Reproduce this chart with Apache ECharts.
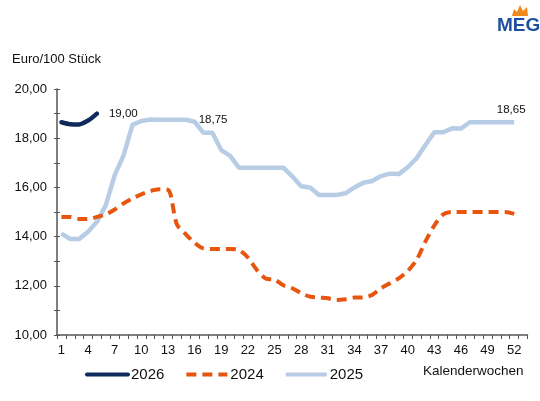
<!DOCTYPE html>
<html>
<head>
<meta charset="utf-8">
<script src="https://cdn.jsdelivr.net/npm/echarts@6/dist/echarts.min.js"></script>
<style>html,body{margin:0;padding:0;background:#fff}#c{width:540px;height:401px}</style>
</head>
<body>
<div id="c"></div>
<script>
var weeks = [];
for (var i = 1; i <= 53; i++) weeks.push(String(i));

var s2026 = [18.65, 18.57, 18.56, 18.72, 19.0];
var s2024 = [14.8, 14.8, 14.72, 14.72, 14.8, 14.9, 15.1, 15.35, 15.55, 15.72, 15.85, 15.92, 15.9, 14.5, 14.1, 13.75,
  13.52, 13.5, 13.5, 13.5, 13.45, 13.15, 12.65, 12.3, 12.25, 12.02, 11.9, 11.7, 11.56, 11.52, 11.49, 11.42,
  11.45, 11.52, 11.53, 11.63, 11.9, 12.1, 12.3, 12.6, 13.05, 13.8, 14.45, 14.9, 15.0, 15.0, 15.0, 15.0,
  15.0, 15.0, 15.0, 14.92];
var s2025 = [14.12, 13.9, 13.9, 14.2, 14.6, 15.28, 16.5, 17.3, 18.54, 18.7, 18.76, 18.75, 18.75, 18.75, 18.75, 18.67,
  18.22, 18.22, 17.52, 17.28, 16.8, 16.8, 16.8, 16.8, 16.8, 16.8, 16.45, 16.05, 16.0, 15.69, 15.69, 15.69,
  15.76, 16.0, 16.19, 16.26, 16.46, 16.56, 16.54, 16.82, 17.18, 17.72, 18.24, 18.24, 18.4, 18.39, 18.65, 18.65,
  18.65, 18.65, 18.65, 18.65];
var yTicks = { min: 10, max: 20, interval: 2 };
var seriesNames = ['2026', '2024', '2025'];

function fmt(v) { return Number(v).toFixed(2).replace('.', ','); }

// labels: {index: [position, distance, offset]}
function withLabels(arr, spec) {
  return arr.map(function (v, i) {
    var s = spec[i];
    if (!s) return v;
    return { value: v, label: { show: true, position: s[0], distance: s[1], offset: s[2] || [0, 0],
      formatter: function (p) { return fmt(p.value); }, fontSize: 11.5, color: '#111',
      fontFamily: 'Liberation Sans, Arial, sans-serif' } };
  });
}

var chart = echarts.init(document.getElementById('c'), null, { renderer: 'canvas' });
var axisColor = '#555';
var lineBase = { type: 'line', showSymbol: true, showAllSymbol: true, symbol: 'circle', symbolSize: 0 };
chart.setOption({
  animation: false,
  backgroundColor: '#fff',
  textStyle: { fontFamily: 'Liberation Sans, Arial, sans-serif' },
  grid: { left: 57, right: 12.5, top: 89, bottom: 66 },
  legend: {
    data: seriesNames,
    left: 85, top: 367, padding: 0,
    itemWidth: 41, itemHeight: 14, itemGap: 20,
    itemStyle: { opacity: 0 },
    lineStyle: { width: 4 },
    textStyle: { fontSize: 15, color: '#111', fontFamily: 'Liberation Sans, Arial, sans-serif', padding: [0, 0, 0, -2] }
  },
  graphic: [
    { type: 'text', left: 12, top: 53, style: { text: 'Euro/100 Stück', font: '13px Liberation Sans, Arial, sans-serif', fill: '#111' } },
    { type: 'text', left: 423, top: 364, style: { text: 'Kalenderwochen', font: '13.5px Liberation Sans, Arial, sans-serif', fill: '#111' } },
    { type: 'text', left: 497, top: 16, style: { text: 'MEG', font: 'bold 19px Liberation Sans, Arial, sans-serif', fill: '#1d4f9e' } },
    { type: 'polygon', shape: { points: [[512, 16], [514, 9], [517, 12], [520, 5], [523, 11], [527, 7], [528, 16]] }, style: { fill: '#f08a1c' } }
  ],
  xAxis: {
    type: 'category',
    data: weeks,
    boundaryGap: true,
    axisLine: { lineStyle: { color: axisColor, width: 1.5 } },
    axisTick: { show: true, interval: 0, length: 4, lineStyle: { color: axisColor } },
    axisLabel: { interval: 2, fontSize: 13, color: '#111', margin: 9 },
    splitLine: { show: false }
  },
  yAxis: [{
    type: 'value',
    min: yTicks.min, max: yTicks.max, interval: yTicks.interval,
    axisLine: { show: true, lineStyle: { color: axisColor, width: 1.5 } },
    axisTick: { show: true, length: 3, lineStyle: { color: axisColor } },
    minorTick: { show: true, splitNumber: 2, length: 3, lineStyle: { color: axisColor } },
    axisLabel: { fontSize: 13, color: '#111', margin: 10, formatter: fmt },
    splitLine: { show: false }
  }, {
    type: 'value', position: 'left',
    min: yTicks.min, max: yTicks.max, interval: yTicks.interval,
    axisLine: { show: false },
    axisTick: { show: true, inside: true, length: 3, lineStyle: { color: axisColor } },
    minorTick: { show: true, splitNumber: 2, length: 3, lineStyle: { color: axisColor } },
    axisLabel: { show: false },
    splitLine: { show: false }
  }],
  series: [
    Object.assign({}, lineBase, { name: '2025', data: withLabels(s2025, { 14: ['right', 13], 51: ['top', 6, [-3, 0]] }),
      lineStyle: { color: '#b7cde6', width: 4.5 }, itemStyle: { color: '#b7cde6' }, z: 2 }),
    Object.assign({}, lineBase, { name: '2024', data: s2024, smooth: 0.3,
      lineStyle: { color: '#e8550f', width: 4, type: [10, 6] }, itemStyle: { color: '#e8550f' }, z: 3 }),
    Object.assign({}, lineBase, { name: '2026', data: withLabels(s2026, { 4: ['right', 12] }), smooth: 0.3,
      lineStyle: { color: '#102a5c', width: 4.5, cap: 'round' }, itemStyle: { color: '#102a5c' }, z: 4 })
  ]
});
</script>
</body>
</html>
